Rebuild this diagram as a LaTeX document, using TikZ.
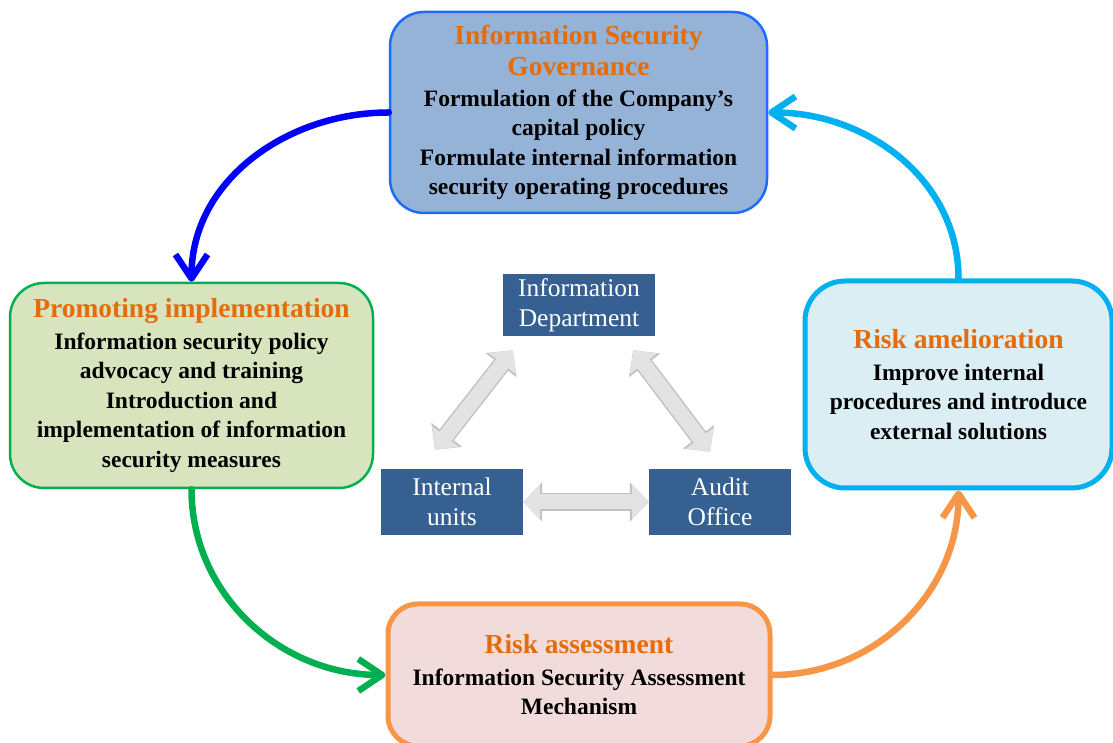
\documentclass[tikz,border=0pt]{standalone}
\usepackage{fontspec}
\setmainfont{Liberation Serif}
\usetikzlibrary{arrows.meta}

\definecolor{govfill}{HTML}{95B3D7}
\definecolor{govline}{HTML}{1F6BFF}
\definecolor{promofill}{HTML}{D7E4BD}
\definecolor{promoline}{HTML}{00B050}
\definecolor{amelfill}{HTML}{DBEEF4}
\definecolor{amelline}{HTML}{00B0F0}
\definecolor{assessfill}{HTML}{F2DCDB}
\definecolor{assessline}{HTML}{F79646}
\definecolor{headorange}{HTML}{E46C0A}
\definecolor{unitblue}{HTML}{366092}

\tikzset{
  stage/.style={draw, rounded corners=34pt, align=center, inner sep=0pt,
    font=\bfseries\fontsize{23.5}{29.5}\selectfont},
  unit/.style={fill=unitblue, text=white, align=center, inner sep=0pt,
    font=\fontsize{25.5}{30}\selectfont},
  flow/.style={line width=6.5pt, line cap=round,
    -{Straight Barb[length=24pt,width=32pt,line join=round]}},
  grayarrow/.style={line width=15pt, gray!22,
    {Triangle[length=17pt,width=33pt]}-{Triangle[length=17pt,width=33pt]},
    preaction={draw, gray!48, line width=18pt,
      {Triangle[length=19pt,width=38pt]}-{Triangle[length=19pt,width=38pt]}}},
}
\newcommand{\heading}[1]{{\color{headorange}\fontsize{27.5}{32}\selectfont #1}}

\begin{document}
\begin{tikzpicture}[x=1pt,y=1pt]
    \useasboundingbox (0,0) rectangle (1113,743);
    % the four stages
    \node[stage, draw=govline, fill=govfill, line width=2.5pt,
      minimum width=377pt, minimum height=201pt] (gov) at (578.5,630.5)
      {\heading{Information Security}\\[2pt]
       \heading{Governance}\\[1pt]
       Formulation of the Company's\\capital policy\\
       Formulate internal information\\security operating procedures};
    \node[stage, draw=promoline, fill=promofill, line width=2.5pt,
      minimum width=363pt, minimum height=205pt] (promo) at (191.5,357.5)
      {\heading{Promoting implementation}\\[2pt]
       Information security policy\\advocacy and training\\
       Introduction and\\implementation of information\\security measures};
    \node[stage, draw=amelline, fill=amelfill, line width=5pt, rounded corners=40pt,
      minimum width=307pt, minimum height=207pt] (amel) at (958.5,358.5)
      {\heading{Risk amelioration}\\[2pt]
       Improve internal\\procedures and introduce\\external solutions};
    \node[stage, draw=assessline, fill=assessfill, line width=5pt, rounded corners=30pt,
      minimum width=382pt, minimum height=142pt] (assess) at (579,68)
      {\heading{Risk assessment}\\[2pt]
       Information Security Assessment\\Mechanism};
    % units in the middle
    \node[unit, minimum width=152pt, minimum height=62pt] (infodep) at (579,438)
      {Information\\Department};
    \node[unit, minimum width=142pt, minimum height=66pt] (units) at (452,241)
      {Internal\\units};
    \node[unit, minimum width=142pt, minimum height=66pt] (audit) at (720,241)
      {Audit\\Office};
    % gray links between the units
    \draw[grayarrow] ([xshift=-17pt,yshift=19pt]units.north)
      -- ([xshift=10pt,yshift=-14pt]infodep.south west);
    \draw[grayarrow] ([xshift=-22pt,yshift=-14pt]infodep.south east)
      -- ([xshift=-10pt,yshift=17pt]audit.north);
    \draw[grayarrow] (units.east) -- (audit.west);
    % cycle arrows
    \draw[flow, blue] (gov.west) to[out=180,in=90] (promo.north);
    \draw[flow, promoline] (promo.south) to[out=-90,in=180] (assess.west);
    \draw[flow, assessline] (assess.east) to[out=0,in=-90] (amel.south);
    \draw[flow, amelline] (amel.north) to[out=90,in=0] (gov.east);
\end{tikzpicture}
\end{document}
